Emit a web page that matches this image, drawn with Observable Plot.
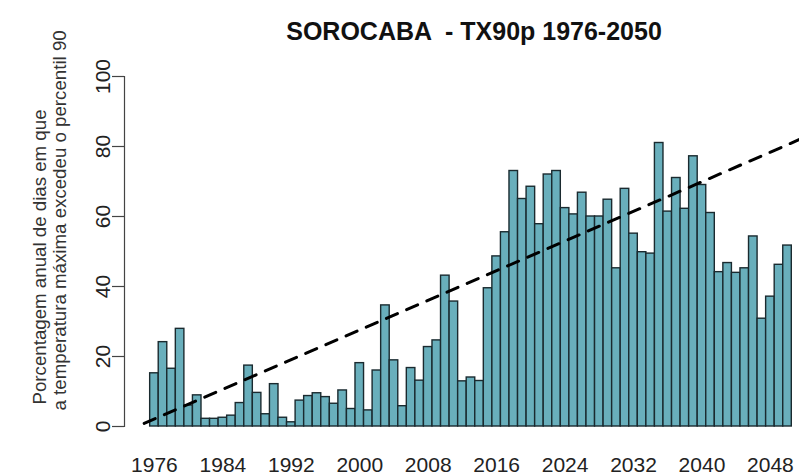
<!DOCTYPE html>
<html>
<head>
<meta charset="utf-8">
<script src="https://cdn.jsdelivr.net/npm/d3@7"></script>
<script src="https://cdn.jsdelivr.net/npm/@observablehq/plot@0.6"></script>
<style>
  html, body { margin: 0; padding: 0; background: #fff; }
  #chart { width: 799px; height: 475px; }
</style>
</head>
<body>
<div id="chart"></div>
<script>
const titleText = "SOROCABA  - TX90p 1976-2050";
const yLabelLine1 = "Porcentagem anual de dias em que";
const yLabelLine2 = "a temperatura máxima excedeu o percentil 90";

const years = [
  1976, 1977, 1978, 1979, 1980, 1981, 1982, 1983, 1984, 1985,
  1986, 1987, 1988, 1989, 1990, 1991, 1992, 1993, 1994, 1995,
  1996, 1997, 1998, 1999, 2000, 2001, 2002, 2003, 2004, 2005,
  2006, 2007, 2008, 2009, 2010, 2011, 2012, 2013, 2014, 2015,
  2016, 2017, 2018, 2019, 2020, 2021, 2022, 2023, 2024, 2025,
  2026, 2027, 2028, 2029, 2030, 2031, 2032, 2033, 2034, 2035,
  2036, 2037, 2038, 2039, 2040, 2041, 2042, 2043, 2044, 2045,
  2046, 2047, 2048, 2049, 2050
];
const values = [
  15.2, 24.1, 16.5, 27.9, 6.0, 8.9, 2.2, 2.2, 2.5, 3.1,
  6.7, 17.4, 9.6, 3.5, 12.1, 2.5, 1.2, 7.4, 8.7, 9.5,
  8.4, 6.5, 10.3, 5.0, 18.1, 4.6, 16.0, 34.6, 18.9, 5.8,
  16.7, 13.1, 22.7, 24.6, 43.1, 35.7, 12.9, 14.0, 13.0, 39.5,
  48.6, 55.5, 73.0, 65.0, 68.5, 57.8, 72.0, 73.0, 62.4, 60.6,
  66.8, 60.0, 60.0, 64.8, 45.2, 67.9, 55.1, 49.8, 49.4, 81.0,
  61.4, 71.0, 62.2, 77.2, 69.0, 61.0, 44.1, 46.7, 43.9, 45.2,
  54.3, 30.8, 37.1, 46.2, 51.7
];
const xTickYears = [1976, 1984, 1992, 2000, 2008, 2016, 2024, 2032, 2040, 2048];
const yTicks = [0, 20, 40, 60, 80, 100];
// dashed trend line: its two ends
const trendYears = [1974.8, 2051.4];
const trendValues = [0.9, 82.0];

const bars = years.map((year, i) => ({year, value: values[i]}));
const trend = trendYears.map((year, i) => ({year, value: trendValues[i]}));

const FONT = "'Liberation Sans', Arial, Helvetica, sans-serif";

const chart = Plot.plot({
  width: 799,
  height: 475,
  marginLeft: 124,
  marginRight: 0,
  marginTop: 76,
  marginBottom: 49,
  style: {fontFamily: FONT, background: "#fff", overflow: "visible"},
  x: {domain: [1972.5, 2051.4], axis: null},
  y: {domain: [0, 100], axis: null},
  marks: [
    Plot.rectY(bars, {
      x1: d => d.year - 0.5,
      x2: d => d.year + 0.5,
      y: "value",
      fill: "#69afbc",
      stroke: "#1a2a2f",
      strokeWidth: 1.4
    }),
    Plot.line(trend, {
      x: "year", y: "value",
      stroke: "#000", strokeWidth: 3,
      strokeDasharray: "12,10", clip: true
    }),
    Plot.frame({anchor: "left", stroke: "#444", strokeWidth: 1.2}),
    Plot.axisY({
      ticks: yTicks, tickSize: 12, tickPadding: 3, tickRotate: -90,
      label: null, fontSize: 21, stroke: "#444", strokeWidth: 1.2, fill: "#222"
    }),
    Plot.axisX({
      ticks: xTickYears, tickSize: 0, tickPadding: 31, label: null,
      tickFormat: d => String(d), fontSize: 21, fill: "#222"
    }),
    Plot.text([yLabelLine1], {
      text: d => d, frameAnchor: "bottom-left", textAnchor: "start", rotate: -90,
      dx: -79, dy: -22, fontSize: 18.7, fill: "#333"
    }),
    Plot.text([yLabelLine2], {
      text: d => d, frameAnchor: "bottom-left", textAnchor: "start", rotate: -90,
      dx: -59, dy: -16, fontSize: 18.7, fill: "#333"
    }),
    Plot.text([titleText], {
      text: d => d, frameAnchor: "top", dy: -54, dx: 12,
      fontSize: 25, fontWeight: "bold", fill: "#111"
    })
  ]
});
document.getElementById("chart").appendChild(chart);
</script>
</body>
</html>
